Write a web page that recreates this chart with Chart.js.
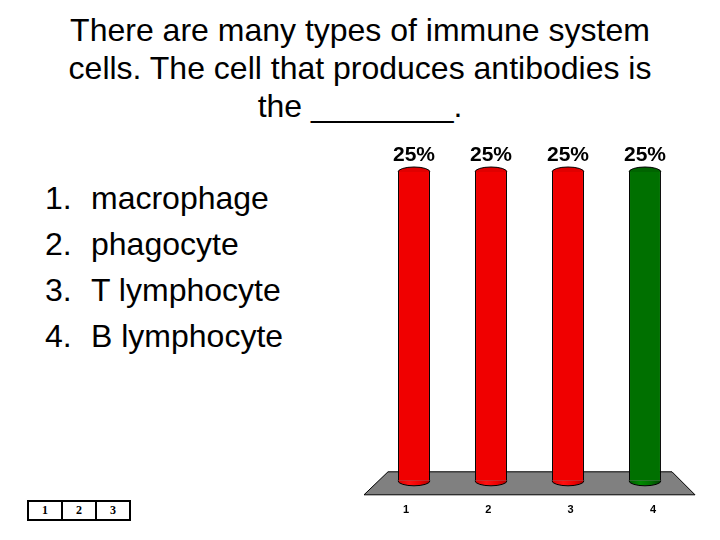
<!DOCTYPE html>
<html lang="en">
<head>
<meta charset="UTF-8">
<title>Immune cells poll</title>
<script src="https://cdn.jsdelivr.net/npm/chart.js"></script>
<style>
    body {
        margin: 0;
        width: 720px;
        height: 540px;
        background: #fff;
        font-family: Arial, "Liberation Sans", sans-serif;
        position: relative;
        overflow: hidden;
    }
    #question {
        position: absolute;
        left: 0;
        top: 11px;
        width: 720px;
        text-align: center;
        font-size: 32px;
        line-height: 38px;
    }
    #answers {
        position: absolute;
        left: 45px;
        top: 175px;
        font-size: 32px;
        line-height: 46px;
    }
    #answers .num {
        display: inline-block;
        width: 46px;
    }
    #chartBox {
        position: absolute;
        left: 360px;
        top: 130px;
        width: 360px;
        height: 410px;
    }
    #counter {
        position: absolute;
        left: 27px;
        top: 500px;
        border-collapse: collapse;
        font-family: "Liberation Serif", "Times New Roman", serif;
        font-weight: bold;
        font-size: 12px;
    }
    #counter td {
        border: 2px solid #000;
        width: 32px;
        height: 17px;
        text-align: center;
        padding: 0;
    }
</style>
</head>
<body>
    <div id="question">There are many types of immune system<br>cells. The cell that produces antibodies is<br>the ________.</div>
    <div id="answers"></div>
    <table id="counter"><tr></tr></table>
    <div id="chartBox"><canvas id="pollChart"></canvas></div>

<script>
    const categories = ['1', '2', '3', '4'];
    const answers = ['macrophage', 'phagocyte', 'T lymphocyte', 'B lymphocyte'];
    const percents = [25, 25, 25, 25];
    const counterCells = ['1', '2', '3'];
    const correctIndex = 3;

    // answer list + response counter
    const answersEl = document.getElementById('answers');
    answers.forEach(function(a, i) {
        const row = document.createElement('div');
        row.innerHTML = '<span class="num">' + categories[i] + '.</span>' + a;
        answersEl.appendChild(row);
    });
    const counterRow = document.querySelector('#counter tr');
    counterCells.forEach(function(c) {
        const td = document.createElement('td');
        td.textContent = c;
        counterRow.appendChild(td);
    });

    function cylinderFill(ctx, left, width, green) {
        if (!ctx || !Number.isFinite(left) || !Number.isFinite(width) || width <= 0) {
            return green ? '#007000' : '#f00000';
        }
        const g = ctx.createLinearGradient(left, 0, left + width, 0);
        if (green) {
            g.addColorStop(0, '#005a00');
            g.addColorStop(0.35, '#008a00');
            g.addColorStop(0.7, '#006e00');
            g.addColorStop(1, '#004000');
        } else {
            g.addColorStop(0, '#d80000');
            g.addColorStop(0.35, '#ff1010');
            g.addColorStop(0.7, '#ee0000');
            g.addColorStop(1, '#b00000');
        }
        return g;
    }

    // grey perspective floor under the cylinders
    const floorPlugin = {
        id: 'floor',
        beforeDatasetsDraw(chart) {
            const a = chart.chartArea;
            const ctx = chart.ctx;
            ctx.save();
            ctx.beginPath();
            ctx.moveTo(a.left - 18, a.bottom - 9);
            ctx.lineTo(a.right + 19, a.bottom - 9);
            ctx.lineTo(a.right + 42, a.bottom + 14);
            ctx.lineTo(a.left - 42, a.bottom + 14);
            ctx.closePath();
            ctx.fillStyle = '#808080';
            ctx.fill();
            ctx.strokeStyle = '#000';
            ctx.lineWidth = 1;
            ctx.stroke();
            ctx.restore();
        }
    };

    const capsPlugin = {
        id: 'caps',
        afterDatasetsDraw(chart) {
            const ctx = chart.ctx;
            const meta = chart.getDatasetMeta(0);
            ctx.save();
            meta.data.forEach(function(bar, i) {
                const w = bar.width;
                const left = bar.x - w / 2;
                const green = i === correctIndex;
                const ry = 5;
                ctx.strokeStyle = '#000';
                ctx.lineWidth = 1;
                // bottom rounding
                ctx.beginPath();
                ctx.ellipse(bar.x, bar.base, w / 2, ry, 0, 0, Math.PI);
                ctx.fillStyle = cylinderFill(ctx, left, w, green);
                ctx.fill();
                ctx.stroke();
                // top cap
                ctx.beginPath();
                ctx.ellipse(bar.x, bar.y, w / 2, ry, 0, Math.PI, 2 * Math.PI);
                ctx.fillStyle = green ? '#006400' : '#e00000';
                ctx.fill();
                ctx.stroke();
                // percent label
                ctx.fillStyle = '#000';
                ctx.font = 'bold 21px Arial';
                ctx.textAlign = 'center';
                ctx.textBaseline = 'middle';
                ctx.fillText(percents[i] + '%', bar.x, bar.y - 17);
            });
            ctx.restore();
        }
    };

    new Chart(document.getElementById('pollChart'), {
        type: 'bar',
        data: {
            labels: categories,
            datasets: [{
                data: categories.map(function(c, i) { return { x: Number(c), y: percents[i] }; }),
                xAxisID: 'x',
                clip: false,
                backgroundColor: function(c) {
                    const el = c.element;
                    const green = c.dataIndex === correctIndex;
                    if (!el) return cylinderFill(null, NaN, 0, green);
                    return cylinderFill(c.chart.ctx, el.x - el.width / 2, el.width, green);
                },
                borderColor: '#000',
                borderWidth: { left: 1, right: 1, top: 0, bottom: 0 },
                borderSkipped: false,
                barPercentage: 0.415,
                categoryPercentage: 1
            }]
        },
        options: {
            responsive: true,
            maintainAspectRatio: false,
            animation: false,
            layout: { padding: { left: 46, right: 67, top: 42, bottom: 0 } },
            plugins: {
                legend: { display: false },
                tooltip: { enabled: false }
            },
            scales: {
                // bars sit slightly inside the label positions (perspective)
                x: {
                    type: 'linear',
                    display: false,
                    offset: false,
                    min: 0.896,
                    max: 4.104
                },
                xLabels: {
                    type: 'category',
                    position: 'bottom',
                    labels: categories,
                    offset: false,
                    grid: { display: false, drawTicks: false },
                    border: { display: false },
                    ticks: {
                        padding: 23,
                        color: '#000',
                        maxRotation: 0,
                        font: { family: 'Arial', size: 11, weight: 'bold' }
                    }
                },
                y: {
                    display: false,
                    min: 0,
                    max: 25
                }
            }
        },
        plugins: [floorPlugin, capsPlugin]
    });
</script>
</body>
</html>
